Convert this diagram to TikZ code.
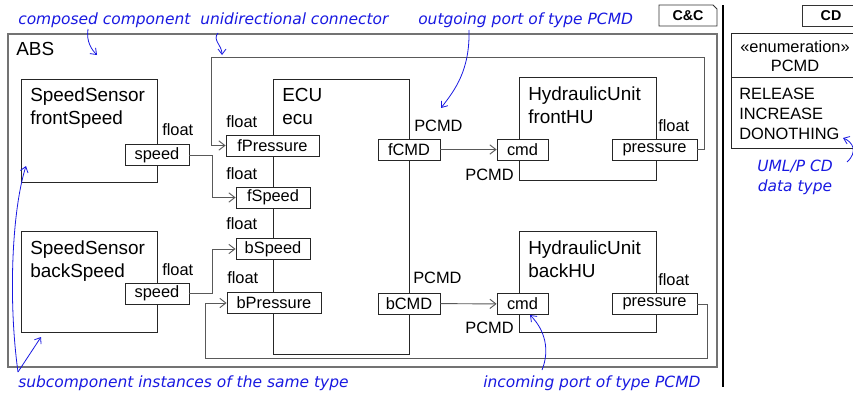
\documentclass[tikz,border=0pt]{standalone}
\usepackage{fontspec}
\setmainfont{Liberation Sans}
\newfontfamily\annotfont{DejaVu Sans}
\usetikzlibrary{arrows.meta}
\definecolor{annot}{RGB}{25,25,225}
\begin{document}
\begin{tikzpicture}[x=0.75pt,y=-0.75pt,
  comp/.style={draw=black!85, line width=0.7pt, inner sep=0pt, anchor=north west},
  port/.style={draw=black!85, fill=white, line width=0.6pt, inner sep=0pt, minimum height=15.75pt, font=\fontsize{12.3}{14}\selectfont},
  conn/.style={draw=black!65, line width=0.7pt, -{Straight Barb[length=4.5pt,width=7pt]}},
  lbl/.style={anchor=base west, inner sep=0pt, font=\fontsize{12.3}{14}\selectfont},
  lblr/.style={anchor=base east, inner sep=0pt, font=\fontsize{12.3}{14}\selectfont},
  cname/.style={anchor=base west, inner sep=0pt, font=\fontsize{14.2}{17}\selectfont},
  ann/.style={anchor=base west, inner sep=0pt, text=annot, font=\annotfont\itshape\fontsize{11.6}{13}\selectfont},
  annarr/.style={draw=annot, line width=0.6pt, -{Straight Barb[length=4pt,width=6pt]}},
  tagtxt/.style={inner sep=0pt, font=\bfseries\fontsize{10.7}{12}\selectfont},
]
\useasboundingbox (0,0) rectangle (853,396);
\clip (0,0) rectangle (853,396);

% outer frame
\node[comp, draw=black!55, line width=1.4pt, minimum width=531.75pt, minimum height=249.75pt] (abs) at (7,33) {};
\node[cname] (abslbl) at (16,55) {ABS};

% tags
\draw[black!80, line width=0.7pt] (659,5) -- (713,5) -- (717,9) -- (717,26) -- (659,26) -- cycle;
\node[tagtxt] (cctag) at (688,16) {C\&C};
\draw[black!80, line width=0.7pt] (860,5) -- (802,5) -- (802,26) -- (860,26);
\node[tagtxt] (cdtag) at (831,16) {CD};

% separator
\draw[black, line width=0.8pt] (723,5) -- (723,387);

% class box
\draw[black!85, line width=0.7pt] (870,33) -- (731,33) -- (731,148) -- (870,148);
\draw[black!85, line width=0.7pt] (731,77) -- (870,77);
\node[anchor=base, inner sep=0pt, font=\fontsize{12.3}{14}\selectfont] (enum) at (795,52) {«enumeration»};
\node[anchor=base, inner sep=0pt, font=\fontsize{12.3}{14}\selectfont] (pcmd) at (795,71.5) {PCMD};
\node[lbl] (rel) at (739,99) {RELEASE};
\node[lbl] (inc) at (739,119) {INCREASE};
\node[lbl] (don) at (739,139) {DONOTHING};

% components
\node[comp, minimum width=102pt, minimum height=77.25pt] (fs) at (21,79) {};
\node[cname] (fs1) at (30,101.5) {SpeedSensor};
\node[cname] (fs2) at (30,124) {frontSpeed};
\node[comp, minimum width=102pt, minimum height=75.75pt] (bs) at (21,231) {};
\node[cname] (bs1) at (30,254) {SpeedSensor};
\node[cname] (bs2) at (30,277) {backSpeed};
\node[comp, minimum width=102pt, minimum height=206.25pt] (ecu) at (273,79) {};
\node[cname] (ecu1) at (282,101.5) {ECU};
\node[cname] (ecu2) at (282,124.5) {ecu};
\node[comp, minimum width=102.75pt, minimum height=77.25pt] (fhu) at (519,77) {};
\node[cname] (fhu1) at (528,100) {HydraulicUnit};
\node[cname] (fhu2) at (528,123) {frontHU};
\node[comp, minimum width=102.75pt, minimum height=75.75pt] (bhu) at (519,231) {};
\node[cname] (bhu1) at (528,254) {HydraulicUnit};
\node[cname] (bhu2) at (528,277) {backHU};

% ports
\node[port, minimum width=48pt] (fsspeed) at (157,155) {speed};
\node[port, minimum width=48pt] (bsspeed) at (157,293.5) {speed};
\node[port, minimum width=69.75pt] (fpress) at (272.5,145.5) {fPressure};
\node[port, minimum width=55.5pt] (fspeed) at (273,197.5) {fSpeed};
\node[port, minimum width=55.5pt] (bspeed) at (273,249) {bSpeed};
\node[port, minimum width=70.5pt] (bpress) at (274,303) {bPressure};
\node[port, minimum width=46.5pt] (fcmd) at (409,149.5) {fCMD};
\node[port, minimum width=46.5pt] (bcmd) at (409,303.5) {bCMD};
\node[port, minimum width=38.25pt] (fhucmd) at (522.5,149.5) {cmd};
\node[port, minimum width=63.75pt] (fhupress) at (654.5,149.5) {pressure};
\node[port, minimum width=38.25pt] (bhucmd) at (522.5,304) {cmd};
\node[port, minimum width=63.75pt] (bhupress) at (654.5,304) {pressure};

% type labels
\node[lbl] (t1) at (162,135) {float};
\node[lbl] (t2) at (226,127) {float};
\node[lbl] (t3) at (226,179) {float};
\node[lbl] (t4) at (226,229) {float};
\node[lbl] (t5) at (227,283) {float};
\node[lbl] (t6) at (162,275) {float};
\node[lbl] (t7) at (414,131) {PCMD};
\node[lbl] (t8) at (413,283) {PCMD};
\node[lbl] (t9) at (658,131) {float};
\node[lbl] (t10) at (658,285) {float};
\node[lblr] (t11) at (514,180) {PCMD};
\node[lblr] (t12) at (514,333) {PCMD};

% connectors
\coordinate (r1) at (704,57);
\coordinate (l1) at (211,57);
\coordinate (r2) at (707,358);
\coordinate (l2) at (205,358);
\draw[conn] (fsspeed.east) -- ++(23,0) |- (fspeed.west);
\draw[conn] (bsspeed.east) -- ++(23,0) |- (bspeed.west);
\draw[conn] (fhupress.east) -| (r1) -- (l1) |- (fpress.west);
\draw[conn] (bhupress.east) -| (r2) -- (l2) |- (bpress.west);
\draw[conn] (fcmd) -- (fhucmd);
\draw[conn] (bcmd) -- (bhucmd);

% annotations
\node[ann] (a1) at (18,24) {composed component};
\node[ann] (a2) at (200,24) {unidirectional connector};
\node[ann] (a3) at (418,24) {outgoing port of type PCMD};
\node[ann] (a4) at (18,387) {subcomponent instances of the same type};
\node[ann] (a5) at (483,387) {incoming port of type PCMD};
\node[ann, anchor=base] (a6) at (795,171) {UML/P CD};
\node[ann, anchor=base] (a7) at (795,191) {data type};

\draw[annarr] (88,29) .. controls (86,42) and (92,50) .. (97,55);
\draw[annarr] (218,33) .. controls (212,40) and (222,45) .. (222,55);
\draw[annarr] (469,30) .. controls (470,70) and (455,90) .. (441,108);
\draw[annarr] (18,372) -- (41,337);
\draw[annarr] (18,372) .. controls (8,300) and (12,210) .. (26,166);
\draw[annarr] (542,370) .. controls (550,350) and (545,330) .. (530,315);
\draw[annarr] (847,162) .. controls (858,152) and (853,142) .. (843,138);
\end{tikzpicture}
\end{document}
